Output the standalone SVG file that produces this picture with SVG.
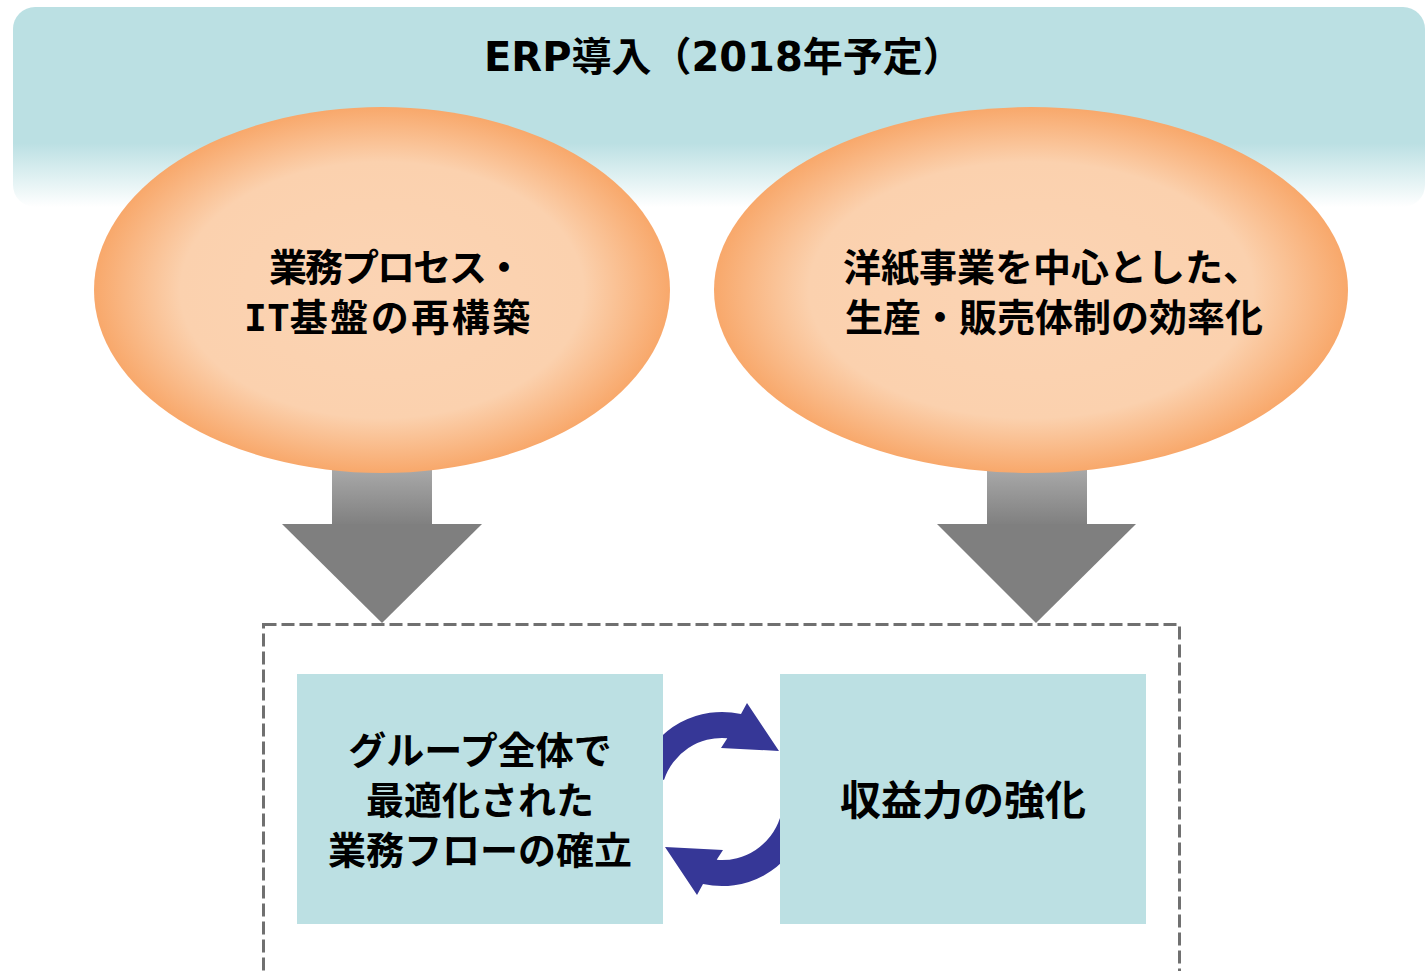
<svg xmlns="http://www.w3.org/2000/svg" width="1428" height="971" viewBox="0 0 1428 971">
<defs>
<linearGradient id="band" x1="0" y1="0" x2="0" y2="1">
<stop offset="0" stop-color="#bbe0e3"/>
<stop offset="0.68" stop-color="#bbe0e3"/>
<stop offset="1" stop-color="#ffffff"/>
</linearGradient>
<radialGradient id="egg" cx="0.5" cy="0.5" r="0.5">
<stop offset="0" stop-color="#fbd4b4"/>
<stop offset="0.7" stop-color="#fbd1ae"/>
<stop offset="1" stop-color="#f8a86b"/>
</radialGradient>
<linearGradient id="shaft" x1="0" y1="0" x2="0" y2="1">
<stop offset="0" stop-color="#a8a8a8"/>
<stop offset="1" stop-color="#7f7f7f"/>
</linearGradient>
<style>
.t{font-family:"DejaVu Sans","Noto Sans CJK JP",sans-serif;font-weight:bold;fill:#000;text-anchor:middle}
.s{text-anchor:start}
.mono{font-family:"DejaVu Sans Mono","Noto Sans CJK JP",monospace}
.box{fill:#bce0e3}
.arr{fill:#7f7f7f}
.cyc{fill:#363797}
</style>
</defs>
<rect x="13" y="7" width="1412" height="200" rx="22" fill="url(#band)"/>
<text class="t s" x="484" y="71" font-size="40">ERP導入（2018年予定）</text>

<g id="connectors">
<g id="arrow-left">
<rect x="332" y="470" width="100" height="56" fill="url(#shaft)"/>
<polygon class="arr" points="282,524 482,524 382,623"/>
</g>
<g id="arrow-right">
<rect x="987" y="470" width="100" height="56" fill="url(#shaft)"/>
<polygon class="arr" points="937,524 1136,524 1036,623"/>
</g>
<g id="cycle">
<path class="cyc" d="M640.2,769.2 A87,87 0 0 1 741,714 L747,703 L779,751 L721,748 L727.3,738.2 A61,61 0 0 0 664,780 Z"/>
<path class="cyc" transform="rotate(180 722 799)" d="M640.2,769.2 A87,87 0 0 1 741,714 L747,703 L779,751 L721,748 L727.3,738.2 A61,61 0 0 0 664,780 Z"/>
</g>
</g>

<g id="node-ellipse-left">
<ellipse cx="382" cy="290" rx="288" ry="183" fill="url(#egg)"/>
<text class="t s" x="269" y="281" font-size="38" letter-spacing="-2">業務プロセス・</text>
<text class="t s" x="244" y="331" font-size="38"><tspan class="mono">IT</tspan><tspan letter-spacing="2.5">基盤の再構築</tspan></text>
</g>
<g id="node-ellipse-right">
<ellipse cx="1031" cy="290" rx="317" ry="183" fill="url(#egg)"/>
<text class="t" x="1052" y="281" font-size="38">洋紙事業を中心とした、</text>
<text class="t" x="1054" y="331" font-size="38">生産・販売体制の効率化</text>
</g>

<g id="node-group">
<rect x="263.5" y="624.5" width="916" height="400" fill="none" stroke="#707070" stroke-width="3" stroke-dasharray="13,5"/>
</g>
<g id="node-box-left">
<rect class="box" x="297" y="674" width="366" height="250"/>
<text class="t" x="480" y="764" font-size="38">グループ全体で</text>
<text class="t" x="480" y="814" font-size="38">最適化された</text>
<text class="t" x="480" y="864" font-size="38">業務フローの確立</text>
</g>
<g id="node-box-right">
<rect class="box" x="780" y="674" width="366" height="250"/>
<text class="t" x="963" y="815" font-size="41">収益力の強化</text>
</g>
</svg>
